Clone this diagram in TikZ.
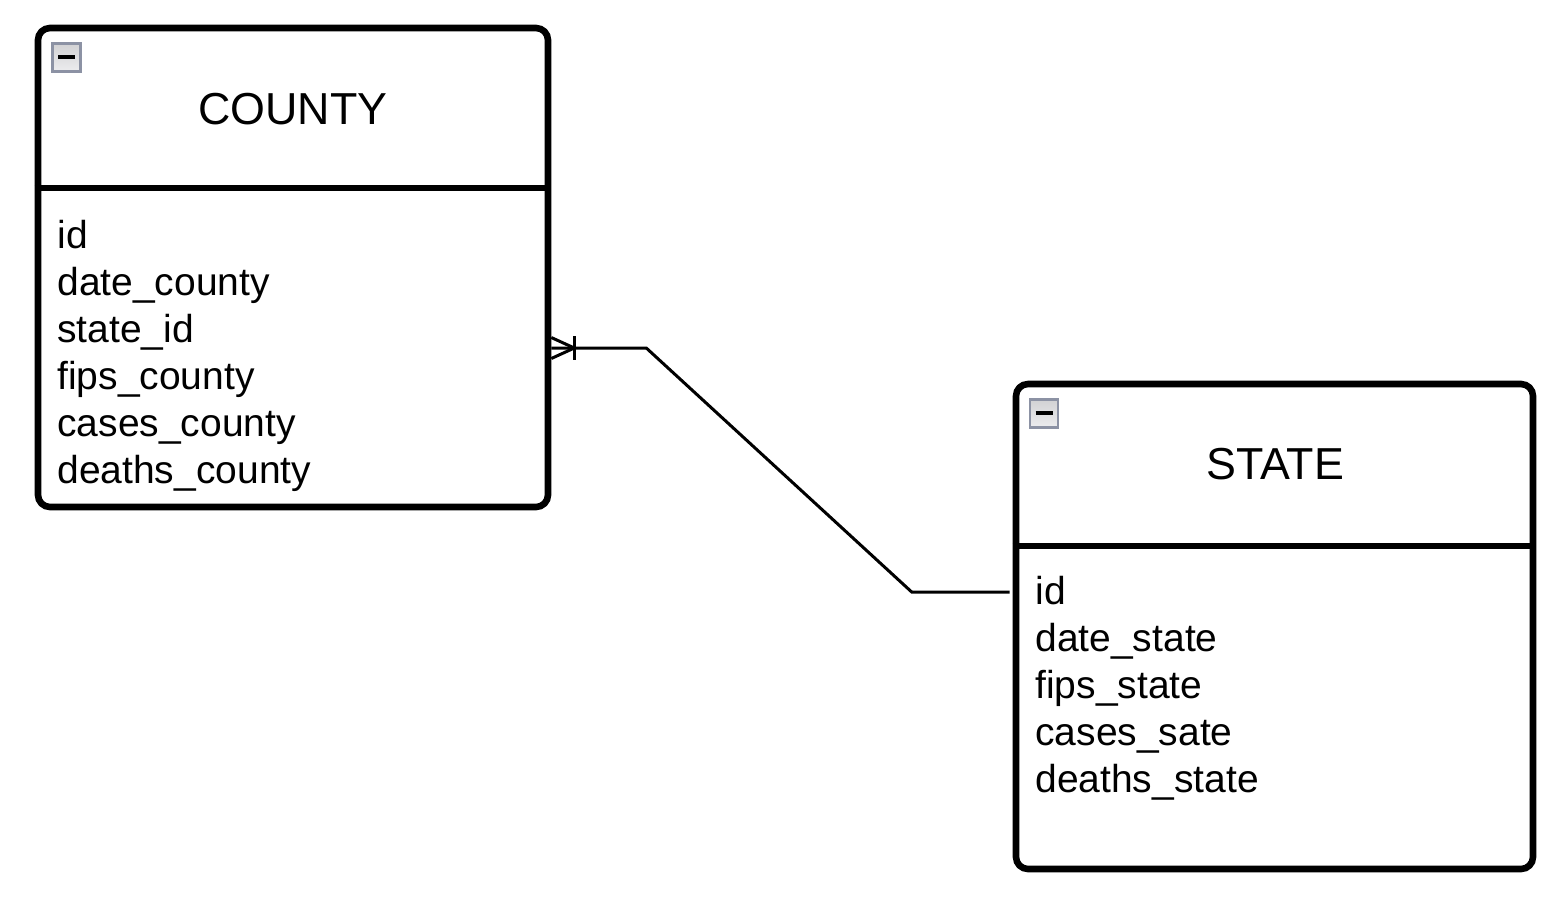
\documentclass[tikz,border=0pt]{standalone}
\usepackage{fontspec}
\setmainfont{Liberation Sans}
\usetikzlibrary{calc}
\definecolor{iconborder}{RGB}{140,146,164}
\definecolor{icontop}{RGB}{210,210,212}
\definecolor{iconbot}{RGB}{236,236,238}
\tikzset{
  erbox/.style={draw=black, line width=3.3pt, rounded corners=6pt, fill=white, inner sep=0pt},
  divider/.style={line width=3.2pt},
  titletext/.style={font=\fontsize{22.4}{26}\selectfont, anchor=base, inner sep=0pt},
  attrtext/.style={font=\fontsize{19.5}{23.5}\selectfont, anchor=base west, inner sep=0pt},
  iconbox/.style={draw=iconborder, line width=1.1pt, top color=icontop, bottom color=iconbot, minimum size=14pt, inner sep=0pt},
  iconbar/.style={line width=2pt},
  conn/.style={line width=1.5pt}
}
\begin{document}
\begin{tikzpicture}[x=0.5pt,y=-0.5pt]
\useasboundingbox (0,0) rectangle (1556,902);
% COUNTY
\node[erbox, minimum width=255pt, minimum height=239.5pt] (county) at (293,267.5) {};
\draw[divider] (county.west |- 0,188) -- (county.east |- 0,188);
\node[iconbox] (cicon) at (66.5,57.5) {};
\draw[iconbar] ($(cicon)+(-8.5,-1)$) -- ($(cicon)+(8.5,-1)$);
\node[titletext] (ctitle) at (293,124) {COUNTY};
\foreach \t [count=\i from 0] in {id,date\_county,state\_id,fips\_county,cases\_county,deaths\_county}
  \node[attrtext] (ca\i) at (57,248+47*\i) {\t};
% STATE
\node[erbox, minimum width=258.5pt, minimum height=242.5pt] (state) at (1274.5,626.5) {};
\draw[divider] (state.west |- 0,546) -- (state.east |- 0,546);
\node[iconbox] (sicon) at (1044,413.5) {};
\draw[iconbar] ($(sicon)+(-8.5,-1)$) -- ($(sicon)+(8.5,-1)$);
\node[titletext] (stitle) at (1275,479) {STATE};
\foreach \t [count=\i from 0] in {id,date\_state,fips\_state,cases\_sate,deaths\_state}
  \node[attrtext] (sa\i) at (1035,604+47*\i) {\t};
% connector
\draw[conn] ($(county.east)+(0,80.5)$) -- ++(95,0) -- ($(state.west)+(-101,-34.5)$) -- ($(state.west)+(-3,-34.5)$);
\draw[conn] ($(county.east)+(0,70)$) -- ($(county.east)+(23,80.5)$) -- ($(county.east)+(0,91)$);
\draw[conn] ($(county.east)+(23,68.5)$) -- ($(county.east)+(23,92.5)$);
\end{tikzpicture}
\end{document}
